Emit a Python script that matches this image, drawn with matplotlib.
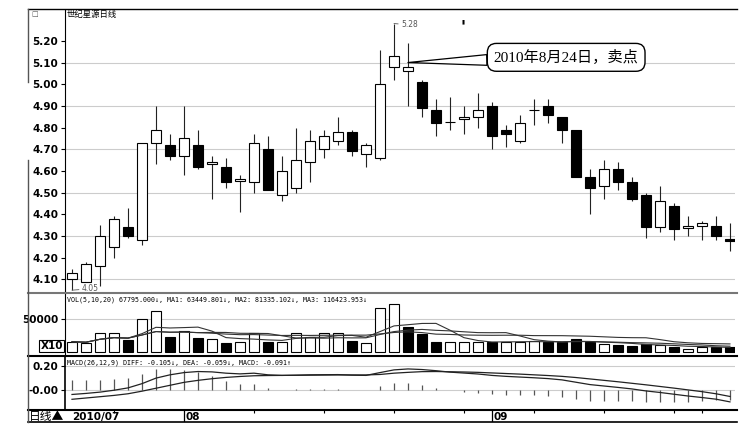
import matplotlib
matplotlib.use('Agg')
import matplotlib.pyplot as plt
import numpy as np
import pandas as pd
from matplotlib.lines import Line2D

# --- data (世纪星源 daily, 2010-07-21 .. 2010-09-29) ---
open_ = [4.10, 4.09, 4.16, 4.25, 4.34, 4.28, 4.73, 4.72, 4.67, 4.72, 4.63, 4.62,
         4.555, 4.55, 4.70, 4.49, 4.52, 4.64, 4.70, 4.74, 4.78, 4.68, 4.66, 5.08,
         5.06, 5.01, 4.88, 4.825, 4.84, 4.85, 4.90, 4.79, 4.74, 4.88, 4.90, 4.85,
         4.79, 4.57, 4.53, 4.61, 4.55, 4.49, 4.34, 4.44, 4.335, 4.345, 4.345, 4.285]
high = [4.15, 4.18, 4.35, 4.39, 4.43, 4.73, 4.90, 4.77, 4.90, 4.79, 4.67, 4.66,
        4.58, 4.77, 4.76, 4.67, 4.80, 4.79, 4.79, 4.85, 4.79, 4.73, 5.16, 5.28,
        5.19, 5.02, 4.93, 4.94, 4.90, 4.96, 4.92, 4.81, 4.86, 4.93, 4.93, 4.85,
        4.79, 4.61, 4.65, 4.64, 4.57, 4.50, 4.53, 4.45, 4.39, 4.37, 4.39, 4.36]
low = [4.05, 4.09, 4.07, 4.20, 4.29, 4.26, 4.63, 4.65, 4.58, 4.61, 4.47, 4.52,
       4.41, 4.50, 4.51, 4.46, 4.50, 4.55, 4.66, 4.72, 4.67, 4.62, 4.65, 5.02,
       4.90, 4.85, 4.76, 4.79, 4.77, 4.80, 4.70, 4.71, 4.73, 4.81, 4.82, 4.73,
       4.57, 4.40, 4.47, 4.51, 4.46, 4.29, 4.32, 4.28, 4.30, 4.28, 4.28, 4.23]
close = [4.13, 4.17, 4.30, 4.38, 4.30, 4.73, 4.79, 4.67, 4.75, 4.62, 4.64, 4.55,
         4.565, 4.73, 4.51, 4.60, 4.65, 4.74, 4.76, 4.78, 4.69, 4.72, 5.00, 5.13,
         5.08, 4.89, 4.82, 4.825, 4.85, 4.88, 4.76, 4.77, 4.82, 4.88, 4.86, 4.79,
         4.57, 4.52, 4.61, 4.55, 4.47, 4.34, 4.46, 4.33, 4.345, 4.36, 4.30, 4.275]
# volume in axis units (axis is marked X10)
volume = [15400, 13900, 28300, 29300, 18000, 49900, 62800, 23100, 32400, 21600,
          19000, 12900, 15400, 28300, 15400, 15400, 28300, 23100, 29300, 28300,
          17000, 13900, 66900, 73000, 37600, 26700, 14400, 14400, 15400, 15400,
          15400, 15400, 15400, 16500, 14400, 14400, 19500, 14400, 11300, 10300,
          8700, 11300, 10300, 7700, 4100, 6700, 7700, 6780]
diff = [-0.042, -0.033, -0.022, -0.006, 0.014, 0.050, 0.097, 0.125, 0.144, 0.153,
        0.150, 0.139, 0.133, 0.139, 0.125, 0.120, 0.122, 0.125, 0.126, 0.127,
        0.122, 0.120, 0.144, 0.167, 0.175, 0.170, 0.160, 0.148, 0.140, 0.132,
        0.120, 0.112, 0.106, 0.100, 0.093, 0.082, 0.062, 0.042, 0.030, 0.018,
        0.005, -0.012, -0.025, -0.040, -0.055, -0.068, -0.082, -0.105]
dea = [-0.083, -0.072, -0.061, -0.050, -0.036, -0.014, 0.011, 0.036, 0.061, 0.078,
       0.092, 0.103, 0.111, 0.117, 0.119, 0.120, 0.121, 0.122, 0.123, 0.124,
       0.124, 0.124, 0.128, 0.139, 0.146, 0.152, 0.153, 0.151, 0.149, 0.146,
       0.141, 0.136, 0.131, 0.125, 0.119, 0.112, 0.102, 0.090, 0.078, 0.066,
       0.053, 0.040, 0.026, 0.012, -0.003, -0.018, -0.036, -0.059]

dates = pd.bdate_range('2010-07-21', '2010-09-29')
dates = dates[(dates < '2010-09-22') | (dates > '2010-09-24')]  # mid-autumn holiday

open_, high, low, close = map(np.array, (open_, high, low, close))
volume, diff, dea = map(np.array, (volume, diff, dea))
x = np.arange(len(close))
macd = 2 * (diff - dea)

W, H = 753, 436
fig = plt.figure(figsize=(W / 100, H / 100), dpi=100)


def rect(x0, y0, x1, y1):
    return [x0 / W, 1 - y1 / H, (x1 - x0) / W, (y1 - y0) / H]


def fline(xs, ys, **kw):
    fig.add_artist(Line2D([v / W for v in xs], [1 - v / H for v in ys],
                          transform=fig.transFigure, **kw))


ax_p = fig.add_axes(rect(65, 9, 735, 293))
ax_v = fig.add_axes(rect(65, 293, 735, 356), sharex=ax_p)
ax_m = fig.add_axes(rect(65, 356, 735, 410), sharex=ax_p)
ax_d = fig.add_axes(rect(65, 410, 735, 422), sharex=ax_p)

tick_font = dict(family=['Liberation Sans Narrow', 'DejaVu Sans'], weight='bold', size=7.5)
mono = ['DejaVu Sans Mono']
cjk = ['Noto Sans CJK SC', 'DejaVu Sans']

for ax in (ax_p, ax_v, ax_m, ax_d):
    for s in ax.spines.values():
        s.set_visible(False)
    ax.tick_params(axis='x', bottom=False, labelbottom=False)
    ax.set_facecolor('none')

for ax in (ax_p, ax_v):
    ax.spines['left'].set_visible(True)
    ax.spines['left'].set_linestyle((0, (1, 1)))
    ax.spines['left'].set_linewidth(0.8)
ax_m.spines['left'].set_visible(True)
ax_m.spines['left'].set_linewidth(1.2)

ax_p.set_xlim(-0.5, 47.36)

# --- price panel ---
up = close >= open_
ax_p.vlines(x, low, high, color='#222222', lw=0.8, zorder=2)
ax_p.bar(x, np.abs(close - open_), width=0.66, bottom=np.minimum(open_, close),
         color=np.where(up, 'white', 'black'), edgecolor='black', lw=0.8, zorder=3)
ax_p.set_ylim(4.037, 5.347)
ax_p.hlines(np.arange(4.1, 5.15, 0.2), -0.5, 47.36, color='#cccccc', lw=0.8, zorder=1)
ax_p.set_yticks(np.arange(4.1, 5.25, 0.1))
ax_p.set_yticklabels([f'{v:.2f}' for v in np.arange(4.1, 5.25, 0.1)], fontdict=tick_font)
ax_p.tick_params(axis='y', length=3, width=0.8, pad=2)

hi_i, lo_i = int(np.argmax(high)), int(np.argmin(low))
ax_p.annotate(f'{high[hi_i]:.2f}', xy=(hi_i, high[hi_i]), xytext=(5, -1),
              textcoords='offset points', fontsize=5.5, color='#555555', va='center',
              arrowprops=dict(arrowstyle='-', color='#555555', lw=0.6, shrinkA=0, shrinkB=0))
ax_p.annotate(f'{low[lo_i]:.2f}', xy=(lo_i, low[lo_i]), xytext=(7, 1),
              textcoords='offset points', fontsize=5.5, color='#555555', va='center',
              arrowprops=dict(arrowstyle='-', color='#555555', lw=0.6, shrinkA=0, shrinkB=0))
ax_p.text(0.003, 0.995, '世纪星源日线', transform=ax_p.transAxes, family=cjk,
          fontsize=6, va='top', ha='left')
ax_p.text(27.95, 0.955, '▮', transform=ax_p.get_xaxis_transform(), fontsize=4,
          ha='center', va='center')

sell_i = int(np.where(dates == '2010-08-24')[0][0])
ax_p.annotate('2010年8月24日，卖点', xy=(sell_i, close[sell_i] + 0.02),
              xytext=(35.3, 5.124), textcoords='data', ha='center', va='center',
              family=['Liberation Serif', 'Noto Sans CJK SC'], fontsize=11,
              bbox=dict(boxstyle='round,pad=0.42,rounding_size=0.6', fc='white', ec='black', lw=1),
              arrowprops=dict(arrowstyle='wedge,tail_width=0.7,shrink_factor=0.5',
                              fc='white', ec='black', lw=0.9, shrinkA=0, shrinkB=0),
              zorder=6)

# --- volume panel ---
vol_up = np.r_[True, close[1:] >= close[:-1]]
ax_v.bar(x, volume, width=0.7, color=np.where(vol_up, 'white', 'black'),
         edgecolor='black', lw=0.8, zorder=3)
vs = pd.Series(volume)
for n in (5, 10, 20):
    ax_v.plot(x, vs.rolling(n, min_periods=1).mean(), color='#333333', lw=0.8, zorder=4)
ax_v.set_ylim(-6600, 90600)
ax_v.hlines([50000], -0.5, 47.36, color='#cccccc', lw=0.8, zorder=1)
ax_v.set_yticks([50000])
ax_v.set_yticklabels(['50000'], fontdict=tick_font)
ax_v.tick_params(axis='y', length=3, width=0.8, pad=2)
ax_v.text(0.003, 0.90, 'VOL(5,10,20) 67795.000↓, MA1: 63449.801↓, MA2: 81335.102↓, MA3: 116423.953↓',
          transform=ax_v.transAxes, family=mono, fontsize=4.75, va='center', ha='left')
ax_v.text(-0.003, 0.16, 'X10', transform=ax_v.transAxes, fontdict=tick_font, ha='right', va='center',
          bbox=dict(boxstyle='square,pad=0.12', fc='white', ec='black', lw=0.8))

# --- MACD panel ---
ax_m.vlines(x, 0, macd, color='#555555', lw=0.9, zorder=3)
ax_m.plot(x, diff, color='#222222', lw=0.9, zorder=4)
ax_m.plot(x, dea, color='#222222', lw=0.9, zorder=4)
ax_m.set_ylim(-0.174, 0.285)
ax_m.hlines([0, 0.2], -0.5, 47.36, color='#cccccc', lw=0.8, zorder=1)
ax_m.set_yticks([0, 0.2])
ax_m.set_yticklabels(['-0.00', '0.20'], fontdict=tick_font)
ax_m.tick_params(axis='y', length=3, width=0.8, pad=2)
ax_m.text(0.003, 0.88, 'MACD(26,12,9) DIFF: -0.105↓, DEA: -0.059↓, MACD: -0.091↑',
          transform=ax_m.transAxes, family=mono, fontsize=4.75, va='center', ha='left')

# --- date strip ---
ax_d.set_ylim(0, 1)
ax_d.set_yticks([])
month_start = [i for i in range(1, len(dates)) if dates[i].month != dates[i - 1].month]
mondays = [i for i in range(len(dates)) if dates[i].weekday() == 0 and i not in month_start]
ax_d.vlines(mondays, 0.72, 1, color='black', lw=0.8)
ax_d.vlines(month_start, 0, 1, color='black', lw=0.9)
ax_d.text(0, 0.45, dates[0].strftime('%Y/%m'), fontdict=tick_font, ha='left', va='center')
for i in month_start:
    ax_d.text(i + 0.12, 0.45, dates[i].strftime('%m'), fontdict=tick_font, ha='left', va='center')
fig.text(28.5 / W, 1 - 416 / H, '日线▲', family=cjk, fontsize=8.5, ha='left', va='center')

# --- frame lines of the trading-software window ---
fline([28, 737], [9, 9], color='black', lw=1.0)
fline([28, 737], [293, 293], color='#777777', lw=1.5)
fline([28, 737], [356, 356], color='black', lw=1.5)
fline([28, 737], [410, 410], color='black', lw=1.5)
fline([28, 737], [422, 422], color='black', lw=1.2)
fline([28, 28], [9, 82], color='#555555', lw=1.0)
fline([28, 28], [160, 422], color='#555555', lw=1.0)
fig.text(31 / W, 1 - 14 / H, '□', fontsize=5, va='center', ha='left', color='#555555')

fig.savefig('out.png', dpi=100)
